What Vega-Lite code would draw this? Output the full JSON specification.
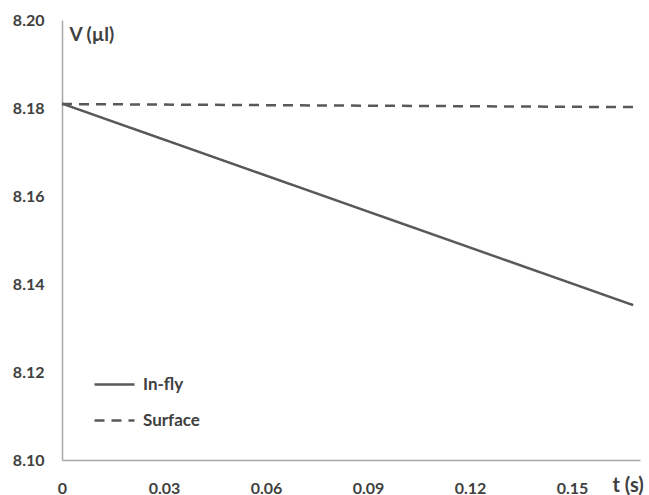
{
  "$schema": "https://vega.github.io/schema/vega-lite/v6.json",
  "autosize": {"type": "none"},
  "width": 578,
  "height": 440,
  "padding": {"left": 62, "top": 20, "right": 9, "bottom": 35},
  "background": "white",
  "config": {
    "view": {"stroke": null},
    "font": "Lato"
  },
  "data": {
    "values": [
      {"t": 0, "V": 8.181, "series": "In-fly"},
      {"t": 0.168, "V": 8.1352, "series": "In-fly"},
      {"t": 0, "V": 8.1809, "series": "Surface"},
      {"t": 0.168, "V": 8.1802, "series": "Surface"}
    ]
  },
  "mark": {"type": "line", "strokeWidth": 2.5, "color": "#595959"},
  "encoding": {
    "x": {
      "field": "t",
      "type": "quantitative",
      "scale": {"domain": [0, 0.17], "nice": false},
      "axis": {
        "values": [0, 0.03, 0.06, 0.09, 0.12, 0.15],
        "labelExpr": "datum.value == 0 ? '0' : format(datum.value, '.2f')",
        "grid": false,
        "ticks": false,
        "tickSize": 0,
        "domainColor": "#a6a6a6",
        "domainWidth": 1.5,
        "labelPadding": 20,
        "labelBaseline": "top",
        "labelFont": "Lato",
        "labelFontWeight": "bold",
        "labelFontSize": 16,
        "labelColor": "#404040",
        "labelFlush": false,
        "title": "t (s)",
        "titleFont": "Lato",
        "titleFontWeight": "bold",
        "titleFontSize": 20,
        "titleColor": "#404040",
        "titleAlign": "left",
        "titleBaseline": "middle",
        "titleAnchor": null,
        "titleX": 550,
        "titleY": 25
      }
    },
    "y": {
      "field": "V",
      "type": "quantitative",
      "scale": {"domain": [8.10, 8.20], "nice": false, "zero": false},
      "axis": {
        "values": [8.10, 8.12, 8.14, 8.16, 8.18, 8.20],
        "format": ".2f",
        "grid": false,
        "ticks": false,
        "tickSize": 0,
        "domainColor": "#a6a6a6",
        "domainWidth": 1.5,
        "labelPadding": 18,
        "labelFont": "Lato",
        "labelFontWeight": "bold",
        "labelFontSize": 16,
        "labelColor": "#404040",
        "labelFlush": false,
        "title": "V (µl)",
        "titleFont": "Lato",
        "titleFontWeight": "bold",
        "titleFontSize": 19,
        "titleColor": "#404040",
        "titleAngle": 0,
        "titleAlign": "left",
        "titleBaseline": "top",
        "titleAnchor": null,
        "titleX": 7,
        "titleY": 5
      }
    },
    "strokeDash": {
      "field": "series",
      "type": "nominal",
      "scale": {"domain": ["In-fly", "Surface"], "range": [[1, 0], [10, 7]]},
      "legend": {
        "orient": "none",
        "legendX": 31,
        "legendY": 343,
        "title": null,
        "padding": 0,
        "symbolType": "stroke",
        "symbolSize": 1600,
        "symbolStrokeWidth": 2.5,
        "symbolStrokeColor": "#595959",
        "labelOffset": 7,
        "labelFont": "Lato",
        "labelFontWeight": "bold",
        "labelFontSize": 17,
        "labelColor": "#404040",
        "rowPadding": 6
      }
    }
  }
}
